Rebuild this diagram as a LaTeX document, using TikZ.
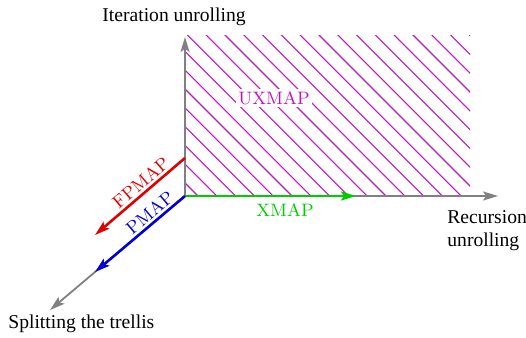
\documentclass[tikz,border=0pt]{standalone}
\usepackage{fontspec}
\newfontfamily\axisfont{Liberation Serif}
\usetikzlibrary{arrows.meta}
\definecolor{hatchcol}{RGB}{190,20,190}
\definecolor{axisgray}{RGB}{128,128,128}
\definecolor{mapred}{RGB}{225,0,0}
\definecolor{mapblue}{RGB}{0,0,210}
\definecolor{mapgreen}{RGB}{0,205,0}
\tikzset{
  tip/.style={-{Stealth[length=7.5pt,width=4.5pt,inset=1.6pt]}},
  axisline/.style={tip, draw=axisgray, fill=axisgray, line width=0.9pt},
  maparrow/.style={tip, line width=1.3pt},
  axislabel/.style={font=\axisfont\fontsize{9.8}{11.6}\selectfont, inner sep=0pt},
  maplabel/.style={font=\small, inner sep=1.2pt},
  hatchline/.style={draw=hatchcol, line width=0.55pt}
}
\begin{document}
\begin{tikzpicture}[x=0.5pt, y=-0.5pt]
\useasboundingbox (0,0) rectangle (526,338);
% reference points of the three axes
\coordinate (O) at (185,196);
\coordinate (up) at (185,37);
\coordinate (right) at (498,196);
\coordinate (diag) at (50,310);
\coordinate (fpstart) at (185,158);
\coordinate (fpend) at (95,235);
\coordinate (pend) at (95,272);
\coordinate (xend) at (356,196);
% hatched region spanned by iteration and recursion unrolling
\begin{scope}
  \clip (185,35) rectangle (470,196);
  \foreach \k in {-1,...,24} {
    \pgfmathsetmacro\c{2+18.8*\k}
    \draw[hatchline] (\c+20,20) -- (\c+220,220);
  }
\end{scope}
\node[maplabel, text=hatchcol, fill=white] (ux) at (274,98) {UXMAP};
% axes
\draw[axisline] (O) -- (up);
\draw[axisline] (O) -- (right);
\draw[axisline] (O) -- (diag);
% axis labels
\node[axislabel, anchor=base] (itlab) at (174,21) {Iteration unrolling};
\node[axislabel, anchor=north west, align=left] (reclab) at (447,210) {Recursion\\unrolling};
\node[axislabel, anchor=base west] (splab) at (8,328) {Splitting the trellis};
% mappings
\draw[maparrow, draw=mapgreen, fill=mapgreen] (O) -- (xend);
\node[maplabel, text=mapgreen] (xlab) at (285,210) {XMAP};
\draw[maparrow, draw=mapred, fill=mapred] (fpstart) -- node[maplabel, text=mapred, sloped, above, pos=0.42] (fplab) {FPMAP} (fpend);
\draw[maparrow, draw=mapblue, fill=mapblue] (O) -- node[maplabel, text=mapblue, sloped, above, pos=0.32] (plab) {PMAP} (pend);
\end{tikzpicture}
\end{document}
